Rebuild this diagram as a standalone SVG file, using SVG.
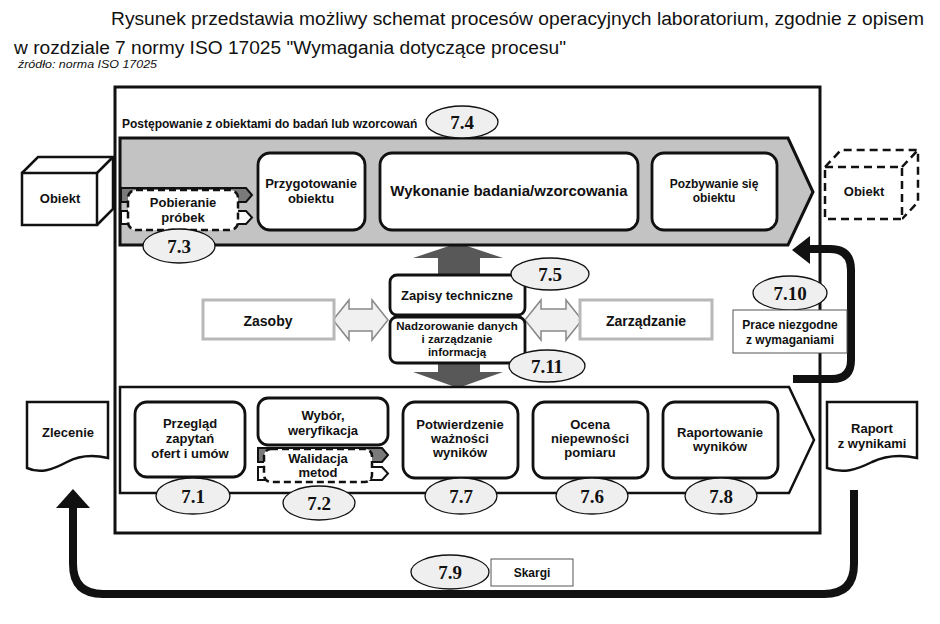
<svg xmlns="http://www.w3.org/2000/svg" width="940" height="624" viewBox="0 0 940 624">
<style>
text{font-family:"Liberation Sans",Arial,sans-serif;fill:#111}
.b{font-weight:bold;font-size:13px;text-anchor:middle}
.b12{font-weight:bold;font-size:12px;text-anchor:middle}
.b14{font-weight:bold;font-size:14px;text-anchor:middle}
.num{font-family:"Liberation Serif","Times New Roman",serif;font-weight:bold;font-size:19px;text-anchor:middle}
.box{fill:#fff;stroke:#111;stroke-width:2.8}
.ell{fill:#efefef;stroke:#111;stroke-width:1.3}
.dash{fill:#fff;stroke:#111;stroke-width:2.5;stroke-dasharray:7 4}
.tabd{fill:#7a7a7a;stroke:#111;stroke-width:2}
.tabw{fill:#fff;stroke:#111;stroke-width:2}
.gbox{fill:#fff;stroke:#b8b8b8;stroke-width:3}
.dbl{fill:#f0f0f0;stroke:#888;stroke-width:1.5}
.thin{fill:#fff;stroke:#555;stroke-width:1}
.heavy{fill:none;stroke:#111;stroke-width:8}
</style>

<g id="title">
<text x="111" y="25" font-size="18" textLength="813" lengthAdjust="spacingAndGlyphs">Rysunek przedstawia możliwy schemat procesów operacyjnych laboratorium, zgodnie z opisem</text>
<text x="14" y="54" font-size="18" textLength="552" lengthAdjust="spacingAndGlyphs">w rozdziale 7 normy ISO 17025 "Wymagania dotyczące procesu"</text>
<text x="18" y="68" font-size="10" font-style="italic" textLength="139" lengthAdjust="spacingAndGlyphs">źródło: norma ISO 17025</text>
</g>

<g id="frame">
<rect x="115" y="87" width="705" height="446" fill="#fff" stroke="#111" stroke-width="3"/>
</g>

<g id="connectors">
<path class="heavy" d="M793 379 H832 Q851 379 851 360 V270 Q851 249 830 249 H806"/>
<polygon points="792,250 810,236 810,264" fill="#111"/>
<path class="heavy" d="M854 490 V564 Q854 594 824 594 H103 Q73 594 73 564 V504"/>
<polygon points="73,489 56,508 90,508" fill="#111"/>
<polygon points="438,275 438,258 413,258 458,243 503,258 480,258 480,275" fill="#585858"/>
<polygon points="438,363 480,363 480,372 503,372 458,388 413,372 438,372" fill="#585858"/>
<polygon class="dbl" points="333,320 349,300 349,309 372,309 372,300 388,320 372,340 372,331 349,331 349,340"/>
<polygon class="dbl" points="525,320 541,300 541,309 566,309 566,300 582,320 566,340 566,331 541,331 541,340"/>
</g>

<g id="band-top">
<polygon points="120,138 788,138 813,192 788,245 120,245" fill="#c3c3c3" stroke="#111" stroke-width="3"/>
<text x="122" y="128" font-size="12" font-weight="bold">Postępowanie z obiektami do badań lub wzorcowań</text>
</g>
<g id="e74"><ellipse class="ell" cx="462" cy="122" rx="36" ry="16"/><text class="num" x="462" y="129">7.4</text></g>

<g id="pobieranie">
<polygon class="tabd" points="121,188 246,188 252,195 246,202 121,202"/>
<polygon class="tabw" points="121,211 246,211 252,217.5 246,224 121,224"/>
<rect class="dash" x="128" y="190" width="110" height="40" rx="8"/>
<text class="b" x="183" y="207">Pobieranie</text>
<text class="b" x="183" y="222">próbek</text>
</g>
<g id="e73"><ellipse class="ell" cx="179" cy="246" rx="36" ry="17"/><text class="num" x="179" y="253">7.3</text></g>

<g id="przygotowanie"><rect class="box" x="258" y="153" width="107" height="77" rx="12"/>
<text class="b" x="311" y="188">Przygotowanie</text><text class="b" x="311" y="203">obiektu</text></g>
<g id="wykonanie"><rect class="box" x="380" y="153" width="258" height="77" rx="12"/>
<text x="509" y="196" font-size="15" font-weight="bold" text-anchor="middle">Wykonanie badania/wzorcowania</text></g>
<g id="pozbywanie"><rect class="box" x="652" y="153" width="125" height="77" rx="12"/>
<text class="b12" x="714" y="188">Pozbywanie się</text><text class="b12" x="714" y="202">obiektu</text></g>

<g id="obiekt-in">
<path d="M22 173 L38 157 H113 V209 L97 225 M97 173 L113 157" fill="none" stroke="#111" stroke-width="2.5"/>
<rect x="22" y="173" width="75" height="52" fill="#fff" stroke="#111" stroke-width="2.5"/>
<text class="b" x="60" y="203">Obiekt</text>
</g>
<g id="obiekt-out">
<path d="M825 167 L841 150 H918 V202 L902 219 M902 167 L918 150" fill="none" stroke="#111" stroke-width="2.5" stroke-dasharray="8 5"/>
<rect x="825" y="167" width="77" height="52" fill="#fff" stroke="#111" stroke-width="2.5" stroke-dasharray="8 5"/>
<text class="b" x="864" y="196">Obiekt</text>
</g>

<g id="zapisy"><rect class="box" x="390" y="275" width="135" height="40" rx="7"/>
<text class="b" x="457" y="300">Zapisy techniczne</text></g>
<g id="nadzorowanie"><rect class="box" x="390" y="317" width="135" height="46" rx="7"/>
<text x="457" y="330" font-size="11.5" font-weight="bold" text-anchor="middle">Nadzorowanie danych</text>
<text x="457" y="343" font-size="11.5" font-weight="bold" text-anchor="middle">i zarządzanie</text>
<text x="457" y="356" font-size="11.5" font-weight="bold" text-anchor="middle">informacją</text></g>
<g id="e75"><ellipse class="ell" cx="550" cy="274" rx="39" ry="16"/><text class="num" x="550" y="281">7.5</text></g>
<g id="e711"><ellipse class="ell" cx="547" cy="366" rx="38" ry="16"/><text class="num" x="547" y="373">7.11</text></g>

<g id="zasoby"><rect class="gbox" x="203" y="300" width="131" height="39"/><text class="b14" x="268" y="326">Zasoby</text></g>
<g id="zarzadzanie"><rect class="gbox" x="580" y="300" width="132" height="39"/><text class="b14" x="646" y="326">Zarządzanie</text></g>

<g id="e710"><ellipse class="ell" cx="790" cy="293" rx="37" ry="17"/><text class="num" x="790" y="300">7.10</text></g>
<g id="prace"><rect class="thin" x="733" y="310" width="114" height="43"/>
<text class="b12" x="790" y="329">Prace niezgodne</text><text class="b12" x="790" y="344">z wymaganiami</text></g>

<g id="band-bottom">
<polygon points="120,387 789,387 814,440 789,493 120,493" fill="#fff" stroke="#111" stroke-width="2.5"/>
</g>

<g id="przeglad"><rect class="box" x="135" y="402" width="110" height="75" rx="12"/>
<text class="b" x="190" y="428">Przegląd</text><text class="b" x="190" y="443">zapytań</text><text class="b" x="190" y="458">ofert i umów</text></g>
<g id="wybor"><rect class="box" x="258" y="398" width="130" height="47" rx="10"/>
<text class="b" x="323" y="420">Wybór,</text><text class="b" x="323" y="435">weryfikacja</text></g>
<g id="walidacja">
<polygon class="tabd" points="258,448 382,448 388,455 382,462 258,462"/>
<polygon class="tabw" points="258,467 382,467 388,473.5 382,480 258,480"/>
<rect class="dash" x="264" y="449" width="108" height="33" rx="7"/>
<text class="b" x="318" y="463">Walidacja</text><text class="b" x="318" y="477">metod</text>
</g>
<g id="potwierdzenie"><rect class="box" x="403" y="402" width="115" height="76" rx="12"/>
<text class="b" x="460" y="429">Potwierdzenie</text><text class="b" x="460" y="443">ważności</text><text class="b" x="460" y="457">wyników</text></g>
<g id="ocena"><rect class="box" x="533" y="402" width="115" height="76" rx="12"/>
<text class="b" x="590" y="429">Ocena</text><text class="b" x="590" y="443">niepewności</text><text class="b" x="590" y="457">pomiaru</text></g>
<g id="raportowanie"><rect class="box" x="663" y="402" width="115" height="76" rx="12"/>
<text class="b" x="720" y="437">Raportowanie</text><text class="b" x="720" y="451">wyników</text></g>

<g id="e71"><ellipse class="ell" cx="193" cy="496" rx="37" ry="18"/><text class="num" x="193" y="503">7.1</text></g>
<g id="e72"><ellipse class="ell" cx="319" cy="503" rx="36" ry="17"/><text class="num" x="319" y="510">7.2</text></g>
<g id="e77"><ellipse class="ell" cx="461" cy="496" rx="36" ry="18"/><text class="num" x="461" y="503">7.7</text></g>
<g id="e76"><ellipse class="ell" cx="592" cy="496" rx="36" ry="18"/><text class="num" x="592" y="503">7.6</text></g>
<g id="e78"><ellipse class="ell" cx="721" cy="496" rx="36" ry="18"/><text class="num" x="721" y="503">7.8</text></g>

<g id="zlecenie">
<path d="M27 402 H108 V458 C95 455 80 455 67 462 C52 470 40 474 27 468 Z" fill="#fff" stroke="#111" stroke-width="2.5"/>
<text class="b" x="68" y="437">Zlecenie</text>
</g>
<g id="raport">
<path d="M827 402 H917 V458 C903 455 887 455 872 462 C856 470 843 474 827 468 Z" fill="#fff" stroke="#111" stroke-width="2.5"/>
<text class="b" x="872" y="433">Raport</text><text class="b" x="872" y="448">z wynikami</text>
</g>

<g id="e79"><ellipse class="ell" cx="450" cy="572" rx="39" ry="17"/><text class="num" x="450" y="579">7.9</text></g>
<g id="skargi"><rect class="thin" x="491" y="559" width="82" height="27"/><text class="b12" x="532" y="577">Skargi</text></g>
</svg>
